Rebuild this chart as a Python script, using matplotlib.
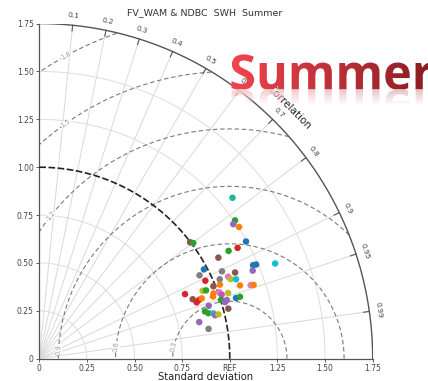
import numpy as np
import matplotlib
matplotlib.use("Agg")
import matplotlib.pyplot as plt
from matplotlib.textpath import TextPath
from matplotlib.font_manager import FontProperties
from matplotlib.patches import PathPatch
from matplotlib.path import Path
from matplotlib.colors import to_rgb

# ---- station statistics (normalised standard deviation, correlation) ----
std_dev = [1.317, 1.256, 1.237, 1.254, 1.246, 0.998, 1.009, 1.191, 1.142, 1.078,
           0.982, 1.062, 1.122, 1.224, 1.240, 1.211, 1.334, 0.947, 0.962, 1.034,
           1.080, 1.087, 1.113, 1.121, 1.174, 1.189, 0.989, 1.024, 0.928, 0.945,
           0.836, 0.976, 0.968, 1.007, 1.014, 1.049, 0.863, 0.877, 0.894, 0.909,
           1.002, 1.031, 1.019, 1.080, 1.102, 0.931, 1.026, 0.904, 0.919, 0.944,
           0.950, 0.968, 0.861, 0.902]
correlation = [0.770, 0.818, 0.823, 0.836, 0.871, 0.793, 0.801, 0.874, 0.870, 0.872,
               0.880, 0.903, 0.916, 0.917, 0.918, 0.925, 0.928, 0.888, 0.906, 0.916,
               0.918, 0.924, 0.928, 0.940, 0.945, 0.946, 0.924, 0.926, 0.924, 0.926,
               0.915, 0.937, 0.942, 0.939, 0.944, 0.945, 0.933, 0.942, 0.939, 0.938,
               0.952, 0.955, 0.957, 0.956, 0.956, 0.955, 0.967, 0.962, 0.966, 0.968,
               0.971, 0.971, 0.975, 0.985]
point_colors = ["#1fb59b", "tab:green", "tab:purple", "tab:orange", "tab:blue",
                "tab:brown", "tab:green", "tab:red", "tab:green", "tab:brown",
                "tab:blue", "tab:gray", "tab:brown", "tab:blue", "tab:blue",
                "tab:purple", "tab:cyan", "tab:gray", "tab:red", "tab:gray",
                "tab:pink", "tab:olive", "tab:cyan", "tab:orange", "tab:pink",
                "tab:orange", "tab:brown", "tab:orange", "tab:olive", "tab:green",
                "tab:red", "tab:orange", "tab:orange", "tab:pink", "#c94fc4",
                "tab:olive", "tab:brown", "tab:red", "tab:red", "tab:orange",
                "tab:green", "tab:purple", "tab:purple", "tab:blue", "tab:green",
                "tab:purple", "tab:brown", "tab:green", "tab:green", "tab:cyan",
                "tab:purple", "tab:olive", "tab:purple", "tab:gray"]

corr_ticks = [0.1, 0.2, 0.3, 0.4, 0.5, 0.6, 0.7, 0.8, 0.9, 0.95, 0.99]
std_ticks = [0, 0.25, 0.5, 0.75, 1.0, 1.25, 1.5, 1.75]
x_tick_labels = ["0", "0.25", "0.50", "0.75", "REF", "1.25", "1.50", "1.75"]
y_tick_labels = ["0", "0.25", "0.50", "0.75", "1.00", "1.25", "1.50", "1.75"]
std_grid = [0.25, 0.5, 0.75, 1.25, 1.5]
rms_levels = [0.3, 0.6, 0.9, 1.2, 1.5, 1.8]
rms_label_angle = [168, 174, 177, 141.6, 125, 118.6]   # degrees around REF
ref_std = 1.0
smax = 1.75

W, H = 428, 381
fig = plt.figure(figsize=(W / 100, H / 100), dpi=100)
fig.patch.set_facecolor("white")
ax = fig.add_axes([39.3 / W, (H - 358.7) / H, smax * 190.5 / W, smax * 191.5 / H])
ax.set_xlim(0, smax)
ax.set_ylim(0, smax)
for s in ("top", "right"):
    ax.spines[s].set_visible(False)
for s in ("left", "bottom"):
    ax.spines[s].set_color("#555555")
    ax.spines[s].set_linewidth(0.9)
ax.set_xticks(std_ticks)
ax.set_xticklabels(x_tick_labels)
ax.set_yticks(std_ticks)
ax.set_yticklabels(y_tick_labels)
ax.tick_params(labelsize=5.5, colors="#444444", length=2, width=0.6, pad=2)
ax.set_xlabel("Standard deviation", fontsize=7.2, color="#222222", labelpad=-1)

# standard-deviation arcs about the origin
t = np.linspace(0, np.pi / 2, 300)
for s in std_grid:
    ax.plot(s * np.cos(t), s * np.sin(t), color="#dddddd", lw=0.7, zorder=1)

# correlation rays
for c in corr_ticks:
    a = np.arccos(c)
    ax.plot([0, smax * np.cos(a)], [0, smax * np.sin(a)], color="#d9d9d9", lw=0.7, zorder=1)

# centred RMS difference arcs about REF
tt = np.linspace(0, np.pi, 800)
for r, ang in zip(rms_levels, rms_label_angle):
    x = ref_std + r * np.cos(tt)
    y = r * np.sin(tt)
    bad = (x < 0) | (np.hypot(x, y) > smax)
    x = np.where(bad, np.nan, x)
    y = np.where(bad, np.nan, y)
    ax.plot(x, y, ls=(0, (4, 2.5)), color="#7a7a7a", lw=0.8, zorder=2)
    ar = np.radians(ang)
    lx, ly = ref_std + r * np.cos(ar), r * np.sin(ar)
    rot = ang - 90
    ax.text(lx, ly, f"{r:.1f}", fontsize=4.8, color="#999999", rotation=rot,
            ha="center", va="center", zorder=3,
            bbox=dict(boxstyle="square,pad=0.05", fc="white", ec="none"))

# reference standard deviation arc
ax.plot(ref_std * np.cos(t), ref_std * np.sin(t), color="#222222", lw=1.2,
        ls=(0, (4, 1.5)), zorder=3)

# outer boundary and correlation ticks
ax.plot(smax * np.cos(t), smax * np.sin(t), color="#555555", lw=1.0, zorder=3)
for c in corr_ticks:
    a = np.arccos(c)
    ax.plot([(smax - 0.03) * np.cos(a), smax * np.cos(a)],
            [(smax - 0.03) * np.sin(a), smax * np.sin(a)], color="#555555", lw=0.8, zorder=3)
    ax.text(1.80 * np.cos(a), 1.80 * np.sin(a), f"{c:g}", fontsize=5.4, color="#444444",
            rotation=np.degrees(a) - 90, ha="center", va="center")
ca = np.radians(45.0)
ax.text(1.855 * np.cos(ca), 1.855 * np.sin(ca), "Correlation", fontsize=7.5,
        color="#222222", rotation=-45.0, ha="center", va="center",
        rotation_mode="anchor")

# station points
sd = np.array(std_dev)
cr = np.array(correlation)
ang = np.arccos(cr)
ax.scatter(sd * np.cos(ang), sd * np.sin(ang), s=22, c=point_colors,
           edgecolors="none", zorder=5, clip_on=False)

fig.text(205 / W, 1 - 13 / H, "FV_WAM & NDBC  SWH  Summer", fontsize=6.8,
         color="#333333", ha="center", va="center")

# ---- season banner with colour gradient and reflection ----
ov = fig.add_axes([0, 0, 1, 1], zorder=10)
ov.set_xlim(0, W)
ov.set_ylim(0, H)
ov.set_axis_off()

fp = FontProperties(family="Open Sans", weight="bold")
tp = TextPath((0, 0), "Summer", size=48.5, prop=fp)
ext = tp.get_extents()
x0, base = 231.5, H - 89.5
verts = tp.vertices.copy()
verts[:, 0] += x0 - ext.x0
verts[:, 1] += base
main_path = Path(verts, tp.codes)
ext2 = main_path.get_extents()

c_left = np.array(to_rgb("#f2444e"))
c_right = np.array(to_rgb("#8a1c22"))
nx, ny = 256, 64
fx = np.linspace(0, 1, nx)[None, :, None]
grad = c_left * (1 - fx) + c_right * fx
grad = np.repeat(grad, ny, axis=0)
rgba = np.concatenate([grad, np.ones((ny, nx, 1))], axis=2)
im = ov.imshow(rgba, extent=[ext2.x0, ext2.x1, ext2.y0, ext2.y1], aspect="auto",
               interpolation="bilinear", zorder=11)
im.set_clip_path(PathPatch(main_path, transform=ov.transData))

# mirrored reflection under the baseline
fverts = verts.copy()
fverts[:, 1] = 2 * base - fverts[:, 1]
refl_path = Path(fverts, tp.codes)
depth = 16.0
fy = np.linspace(0, 1, ny)[:, None, None]   # 0 at top (baseline)
white = np.ones((ny, nx, 3))
wa = np.clip(1 - fy / 0.9, 0, 1)
white_rgba = np.concatenate([white, wa * np.ones((ny, nx, 1))], axis=2)
imw = ov.imshow(white_rgba, extent=[ext2.x0, ext2.x1, base - depth, base], aspect="auto",
                interpolation="bilinear", zorder=11)
imw.set_clip_path(PathPatch(refl_path, transform=ov.transData))
ra = 0.28 * np.clip(1 - fy, 0, 1)
refl_rgba = np.concatenate([grad, ra * np.ones((ny, nx, 1))], axis=2)
imr = ov.imshow(refl_rgba, extent=[ext2.x0, ext2.x1, base - depth, base], aspect="auto",
                interpolation="bilinear", zorder=12)
imr.set_clip_path(PathPatch(refl_path, transform=ov.transData))

fig.savefig("out.png", dpi=100)
